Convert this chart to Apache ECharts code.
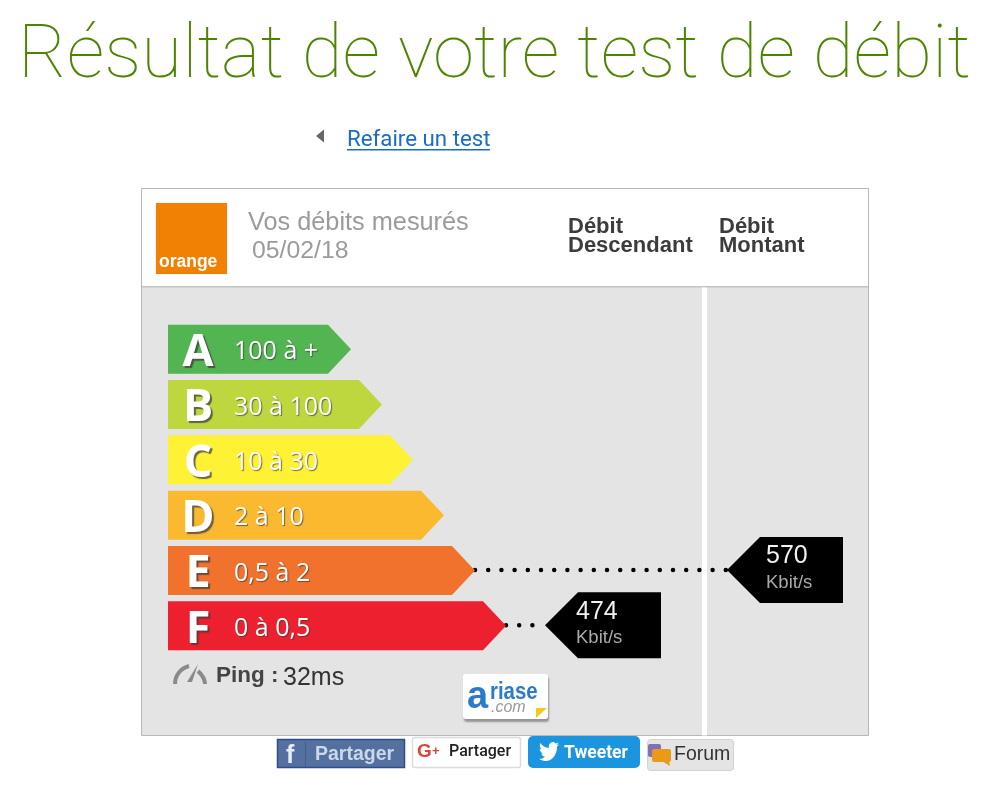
<!DOCTYPE html>
<html><head><meta charset="utf-8">
<style>html,body{margin:0;padding:0;background:#fff}#c{width:999px;height:806px}</style>
<script src="https://cdn.jsdelivr.net/npm/echarts@6/dist/echarts.min.js"></script>
</head><body><div id="c"></div>
<script>
const titleText = 'Résultat de votre test de débit';
const categories = ['A','B','C','D','E','F'];
const rangeLabels = ['100 à +','30 à 100','10 à 30','2 à 10','0,5 à 2','0 à 0,5'];
const arrowLengths = [183,214,245,276,307,338];
const arrowColors = ['#52b551','#bfd73f','#fff133','#fbb930','#f1722d','#ec202e'];
const downloadMeasure = ['F', 474, 'Kbit/s', 377];
const uploadMeasure = ['E', 570, 'Kbit/s', 559];

const chart = echarts.init(document.getElementById('c'), null, {renderer:'canvas'});
const FONT = '"Liberation Sans"';

function arrowItem(params, api){
  const i = params.dataIndex;
  const p = api.coord([api.value(0), i]);
  const x0 = api.coord([0, i])[0];
  const h = api.size([0,1])[1] * 0.885, c = p[1];
  return {type:'group', children:[
    {type:'polygon', shape:{points:[[x0,c-h/2],[p[0]-23,c-h/2],[p[0],c],[p[0]-23,c+h/2],[x0,c+h/2]]}, style:{fill:arrowColors[i]}},
    {type:'text', style:{text:categories[i], x:x0+30, y:c+4, align:'center', verticalAlign:'middle', fontFamily:'"Open Sans"', fontWeight:700, fontSize:45, fill:'#fff', textShadowColor:'rgba(60,60,60,0.75)', textShadowBlur:1, textShadowOffsetX:2, textShadowOffsetY:2}},
    {type:'text', style:{text:rangeLabels[i], x:x0+66, y:c+3, align:'left', verticalAlign:'middle', fontFamily:'"Open Sans"', fontSize:25, fill:'#fff', textShadowColor:'rgba(60,60,60,0.7)', textShadowBlur:1, textShadowOffsetX:1, textShadowOffsetY:1}}
  ]};
}
function tagSeries(name, m, textDx){
  return {type:'custom', name, coordinateSystem:'cartesian2d', clip:false, z:5,
    data:[[m[3], m[0], m[1], m[2]]],
    renderItem(params, api){
      const catIndex = categories.indexOf(m[0]);
      const tip = api.coord([api.value(0), catIndex]);
      const arrowTip = api.coord([arrowLengths[catIndex], catIndex]);
      const y = tip[1]-0.5, x = tip[0];
      return {type:'group', children:[
        {type:'line', shape:{x1:arrowTip[0], y1:y, x2:x, y2:y}, style:{stroke:'#000', lineWidth:4.5, lineCap:'round', lineDash:[0,13.2]}},
        {type:'polygon', shape:{points:[[x,y],[x+33,y-33],[x+116,y-33],[x+116,y+33],[x+33,y+33]]}, style:{fill:'#000'}},
        {type:'text', style:{text:String(m[1]), x:x+textDx, y:y-13.5, verticalAlign:'middle', fontFamily:'"Liberation Sans"', fontSize:25, fill:'#f2f2f2'}},
        {type:'text', style:{text:m[2], x:x+textDx, y:y+13, verticalAlign:'middle', fontFamily:'"Liberation Sans"', fontSize:18.5, fill:'#aaa'}}
      ]};
    }};
}
const t = (text,x,y,size,fill,extra,el)=>Object.assign({type:'text', silent:true, style:Object.assign({text,x,y,fontSize:size,fill,fontFamily:FONT,verticalAlign:'middle'},extra||{})},el||{});
const r = (x,y,w,h,fill,extra,rad)=>({type:'rect', silent:true, shape:{x,y,width:w,height:h,r:rad||0}, style:Object.assign({fill},extra||{})});
const BIRD='M23.954 4.569c-.885.389-1.83.654-2.825.775 1.014-.611 1.794-1.574 2.163-2.723-.951.555-2.005.959-3.127 1.184-.896-.959-2.173-1.559-3.591-1.559-2.717 0-4.92 2.203-4.92 4.917 0 .39.045.765.127 1.124C7.691 8.094 4.066 6.13 1.64 3.161c-.427.722-.666 1.561-.666 2.475 0 1.71.87 3.213 2.188 4.096-.807-.026-1.566-.248-2.228-.616v.061c0 2.385 1.693 4.374 3.946 4.827-.413.111-.849.171-1.296.171-.314 0-.615-.03-.916-.086.631 1.953 2.445 3.377 4.604 3.417-1.68 1.319-3.809 2.105-6.102 2.105-.39 0-.779-.023-1.17-.067 2.189 1.394 4.768 2.209 7.557 2.209 9.054 0 13.999-7.496 13.999-13.986 0-.209 0-.42-.015-.63.961-.689 1.8-1.56 2.46-2.548l-.047-.02z';

function iconItem(){
  return {type:'group', children:[
    {type:'path', shape:{pathData:'M176 684C176 676 181 670 188 668', layout:'cover', x:175, y:666, width:14, height:18}, style:{fill:'none',stroke:'#8a8a8a',lineWidth:4}},
    {type:'path', shape:{pathData:'M199 671C202 675 204 679 204 684', layout:'cover', x:198, y:671, width:7, height:13}, style:{fill:'none',stroke:'#8a8a8a',lineWidth:4}},
    {type:'path', shape:{pathData:BIRD, layout:'cover', x:539, y:742, width:20, height:19}, style:{fill:'#fff'}}
  ]};
}

chart.setOption({
  animation:false,
  backgroundColor:'#fff',
  title:{text:titleText, left:13, top:16, textStyle:{fontFamily:'Roboto', fontWeight:100, fontSize:74.5, color:'#4e8400'}},
  grid:{left:168, top:321.5, width:700, height:332},
  xAxis:{type:'value', min:0, max:700, show:false},
  yAxis:{type:'category', data:categories, inverse:true, show:false},
  graphic:{elements:[
    {type:'polygon', silent:true, shape:{points:[[324,129.5],[324,142.5],[316,136]]}, style:{fill:'#666'}},
    t('Refaire un test',347,140,22.3,'#1a6cc4',{fontFamily:'Roboto'}),
    r(347,149,143,1.5,'#1a6cc4'),
    r(141.5,188.5,727,547,'#e4e4e4',{stroke:'#b8b8b8',lineWidth:1}),
    r(142,189,726,97,'#fff'),
    r(142,286,726,1.5,'#c4c4c4'),
    r(702,287.5,5,448,'#fff'),
    r(156,203,71,71,'#f08105',{shadowColor:'rgba(0,0,0,0.12)',shadowBlur:2}),
    t('orange',159,262.5,17.5,'#fff',{fontWeight:700}),
    t('Vos débits mesurés',248,223,25.3,'#9b9b9b'),
    t('05/02/18',252,251,24.8,'#9b9b9b'),
    t('Débit',568,227,22,'#3c3c3c',{fontWeight:700}),
    t('Descendant',568,246,22,'#3c3c3c',{fontWeight:700}),
    t('Débit',719,227,22,'#3c3c3c',{fontWeight:700}),
    t('Montant',719,246,22,'#3c3c3c',{fontWeight:700}),
    {type:'polygon', silent:true, shape:{points:[[198,664],[192,682],[187,682]]}, style:{fill:'#8a8a8a'}},
    t('Ping :',216,676,22.5,'#444',{fontWeight:700}),
    t('32ms',283,678,25,'#333'),
    r(463,674,85,45,'#fff',{shadowColor:'rgba(0,0,0,0.35)',shadowBlur:2,shadowOffsetX:1,shadowOffsetY:3},3),
    t('a',467,698,38,'#2b7bc9',{fontWeight:700}),
    t('riase',490,692,24,'#2b7bc9',{fontWeight:700},{scaleX:0.85,originX:490,originY:692}),
    t('.com',491,708,16,'#9a9a9a',{fontStyle:'italic'}),
    {type:'polygon', silent:true, shape:{points:[[536,718],[536,708],[547,708]]}, style:{fill:'#f6c915'}},
    r(277.5,739.5,127,28,'#53709f',{stroke:'#2f4d8b',lineWidth:1.5}),
    r(305,741,1,26,'#41608f'),
    t('f',286,756,25,'#e6ecf6',{fontWeight:700}),
    t('Partager',315,755,19.5,'#cdd7ea',{fontWeight:700}),
    r(412.5,737.5,108,30,'#fff',{stroke:'#dcdcdc',lineWidth:1.5},2),
    t('G',417,752,19,'#db4437',{fontWeight:700}),
    t('+',432,751,13,'#db4437',{fontWeight:700}),
    t('Partager',449,752,16,'#222',{fontFamily:'Roboto',fontWeight:500}),
    r(528,736,112,32,'#1b95e0',null,5),
    t('Tweeter',564,753.5,17.5,'#fff',{fontFamily:'Roboto',fontWeight:700}),
    r(647.5,739.5,86,31,'#e4e4e4',{stroke:'#d2d2d2',lineWidth:1},3),
    r(648,744,13,13,'#7f70b8',null,2),
    r(652,749,19,13,'#ea9a17',null,2),
    {type:'polygon', silent:true, shape:{points:[[662,761],[669,761],[670,766]]}, style:{fill:'#ea9a17'}},
    t('Forum',674,755,19.5,'#333')
  ]},
  series:[
    {type:'custom', name:'Classes', coordinateSystem:'cartesian2d', clip:false, z:6, data:arrowLengths, renderItem:arrowItem},
    tagSeries('Débit Descendant', downloadMeasure, 31),
    tagSeries('Débit Montant', uploadMeasure, 39),
    {type:'custom', name:'Icons', coordinateSystem:'cartesian2d', clip:false, z:7, silent:true, data:[0], renderItem:iconItem}
  ]
});
</script></body></html>
